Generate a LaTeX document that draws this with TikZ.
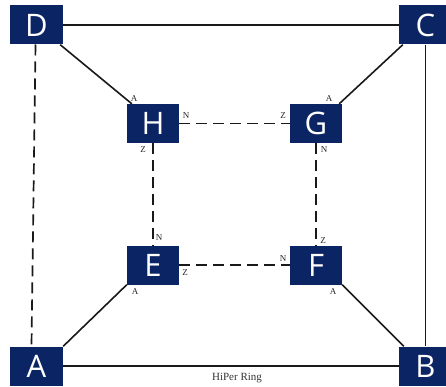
\documentclass[tikz,border=0pt]{standalone}
\usepackage{fontspec}
\setmainfont{Liberation Serif}
\newfontfamily\boxfont{Open Sans}
\definecolor{navy}{HTML}{0B2463}
\tikzset{
  dev/.style={draw=none, fill=navy, minimum width=53pt, minimum height=39pt, inner sep=0pt,
    text=white, font=\boxfont\fontsize{31}{31}\selectfont},
  solidlink/.style={line width=1.6pt, black!90},
  dashlink/.style={line width=1.7pt, black!90, dash pattern=on 11pt off 6pt},
  port/.style={font=\fontsize{9}{9}\selectfont, inner sep=0pt, text=black!85},
}
\begin{document}
\begin{tikzpicture}[x=1pt,y=-1pt]
\useasboundingbox (0,0) rectangle (446,387);
\clip (0,0) rectangle (446,387);
\coordinate (dtop) at (35.5,44.5);
\coordinate (abot) at (31.5,346);
% devices
\node[dev] (D) at (36.5,25) {D};
\node[dev] (C) at (425.5,25) {C};
\node[dev] (A) at (36.5,366) {A};
\node[dev] (B) at (425.5,366) {B};
\node[dev, minimum width=52pt] (H) at (153,123.5) {H};
\node[dev, minimum width=52pt] (G) at (316,123.5) {G};
\node[dev, minimum width=52pt] (E) at (153,265) {E};
\node[dev, minimum width=52pt] (F) at (316,265) {F};
% outer ring
\draw[solidlink] (D.east) -- (C.west);
\draw[solidlink] (A.east) -- (B.west);
\draw[solidlink] (C.south) -- (B.north);
\draw[dashlink] (dtop) -- (abot);
% diagonals
\draw[solidlink] ([xshift=-3pt]D.south east) -- ([xshift=5pt]H.north west);
\draw[solidlink] ([xshift=4pt]C.south west) -- ([xshift=-3pt]G.north east);
\draw[solidlink] (E.south west) -- (A.north east);
\draw[solidlink] (F.south east) -- ([xshift=5pt]B.north west);
% inner ring
\draw[dashlink] (H.east) -- (G.west);
\draw[dashlink] (E.east) -- (F.west);
\draw[dashlink] (H.south) -- (E.north);
\draw[dashlink] (G.south) -- (F.north);
% port labels
\node[port] (hA) at (134,99) {A};
\node[port] (hN) at (186,116) {N};
\node[port] (hZ) at (143,150) {Z};
\node[port] (gZ) at (283,116) {Z};
\node[port] (gN) at (324,150) {N};
\node[port] (gA) at (329,99) {A};
\node[port] (eN) at (159,238) {N};
\node[port] (eZ) at (185,273) {Z};
\node[port] (eA) at (135,292) {A};
\node[port] (fN) at (283,259) {N};
\node[port] (fZ) at (323,241) {Z};
\node[port] (fA) at (333,292) {A};
\node[font=\fontsize{11}{11}\selectfont, text=black!80] (ring) at (237,378) {HiPer Ring};
\end{tikzpicture}
\end{document}
